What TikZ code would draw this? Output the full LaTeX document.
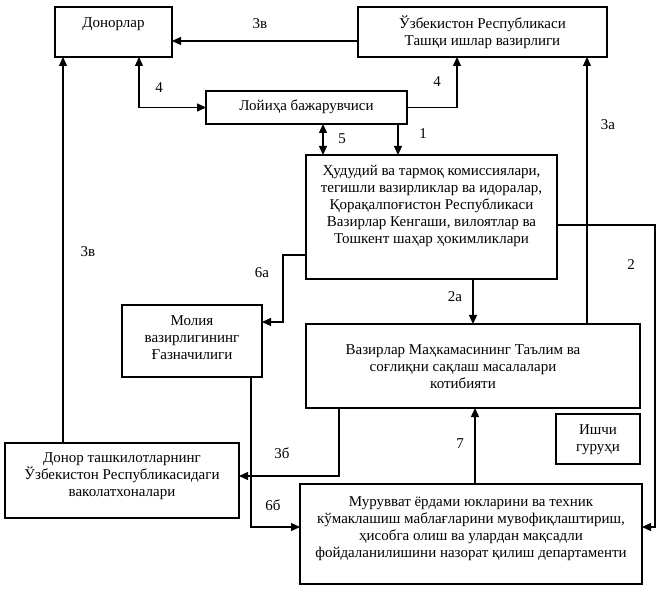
\documentclass[tikz,border=0pt]{standalone}
\usepackage{fontspec}
\setmainfont{Liberation Serif}
\usetikzlibrary{arrows.meta,calc}
\begin{document}
\begin{tikzpicture}[x=1pt,y=-1pt,
  box/.style n args={2}{draw, line width=1.3pt, inner sep=0pt, outer sep=0pt, minimum width=#1, minimum height=#2},
  txt/.style={align=center, inner sep=0pt, font=\fontsize{15}{17}\selectfont},
  lbl/.style={inner sep=0pt, font=\fontsize{15}{17}\selectfont},
  arr/.style={line width=1.3pt, -{Triangle[length=9pt,width=8pt]}},
  arrtwo/.style={line width=1.3pt, {Triangle[length=9pt,width=8pt]}-{Triangle[length=9pt,width=8pt]}}]
\useasboundingbox (0,0) rectangle (661,593);
% boxes
\node[box={117}{50}] (don) at (113.5,32) {};
\node[box={249}{50}] (mfa) at (482.5,32) {};
\node[box={201}{33}] (loy) at (306.5,107.5) {};
\node[box={251}{124}] (hud) at (431.5,217) {};
\node[box={140}{72}] (mol) at (192,341) {};
\node[box={334}{84}] (vaz) at (473,366) {};
\node[box={84}{50}] (ish) at (598,439) {};
\node[box={234}{75}] (dtk) at (122,480.5) {};
\node[box={342}{100}] (mur) at (471,534) {};
% texts
\node[txt] (tdon) at (113.5,24) {Донорлар};
\node[txt] (tmfa) at (482.5,32.5) {Ўзбекистон Республикаси\\Ташқи ишлар вазирлиги};
\node[txt] (tloy) at (306.5,107) {Лойиҳа бажарувчиси};
\node[txt] (thud) at (431.5,206) {Ҳудудий ва тармоқ комиссиялари,\\тегишли вазирликлар ва идоралар,\\Қорақалпоғистон Республикаси\\Вазирлар Кенгаши, вилоятлар ва\\Тошкент шаҳар ҳокимликлари};
\node[txt] (tmol) at (192,338) {Молия\\вазирлигининг\\Ғазначилиги};
\node[txt] (tvaz) at (463,366.5) {Вазирлар Маҳкамасининг Таълим ва\\соғлиқни сақлаш масалалари\\котибияти};
\node[txt] (tish) at (598,439.5) {Ишчи\\гуруҳи};
\node[txt] (tdtk) at (122,476) {Донор ташкилотларнинг\\Ўзбекистон Республикасидаги\\ваколатхоналари};
\node[txt] (tmur) at (471,528.5) {Мурувват ёрдами юкларини ва техник\\кўмаклашиш маблағларини мувофиқлаштириш,\\ҳисобга олиш ва улардан мақсадли\\фойдаланилишини назорат қилиш департаменти};
% helper coordinates
\coordinate (a5) at ($(loy.south)+(16.5,0)$);
\coordinate (a1) at ($(loy.south)+(91.5,0)$);
\coordinate (a3a) at ($(vaz.north)+(114,0)$);
\coordinate (a3v) at ($(dtk.north)+(-59,0)$);
\coordinate (a7) at ($(mur.north)+(4,0)$);
\coordinate (a2a) at (hud.south -| vaz.north);
% connectors
\draw[arr] ($(mfa.west)+(0,9)$) -- ($(don.east)+(0,9)$);
\draw[arrtwo] ($(don.south)+(25.5,0)$) |- (loy.west);
\draw[arr] (loy.east) -| ($(mfa.south)+(-25.5,0)$);
\draw[arrtwo] (a5) -- (a5 |- hud.north);
\draw[arr] (a1) -- (a1 |- hud.north);
\draw[arr] (a3a) -- (a3a |- mfa.south);
\draw[arr] ($(hud.east)+(0,8)$) -- ++(98,0) |- ($(mur.east)+(0,-7)$);
\draw[arr] ($(hud.west)+(0,38)$) -- ++(-23,0) |- ($(mol.east)+(0,-19)$);
\draw[arr] (a2a) -- (vaz.north);
\draw[arr] ($(vaz.south)+(-134,0)$) |- ($(dtk.east)+(0,-4.5)$);
\draw[arr] ($(mol.south)+(59,0)$) |- ($(mur.west)+(0,-7)$);
\draw[arr] (a3v) -- (a3v |- don.south);
\draw[arr] (a7) -- (a7 |- vaz.south);
% labels
\node[lbl] (l3v) at (260,24) {3в};
\node[lbl] (l4a) at (159,88) {4};
\node[lbl] (l4b) at (437,82) {4};
\node[lbl] (l5) at (342,139) {5};
\node[lbl] (l1) at (423,134) {1};
\node[lbl] (l3a) at (608,125) {3а};
\node[lbl] (l2) at (631,265) {2};
\node[lbl] (l6a) at (262,273) {6а};
\node[lbl] (l2a) at (455,297) {2а};
\node[lbl] (l3v2) at (88,252) {3в};
\node[lbl] (l3b) at (282,453) {3б};
\node[lbl] (l6b) at (273,505) {6б};
\node[lbl] (l7) at (460,444) {7};
\end{tikzpicture}
\end{document}
